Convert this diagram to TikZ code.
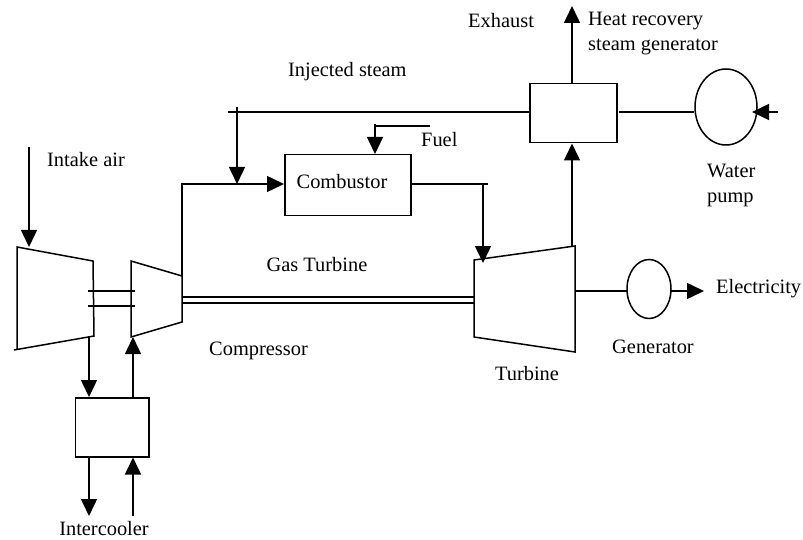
\documentclass[tikz,border=0pt]{standalone}
\usepackage{fontspec}
\setmainfont{Liberation Serif}
\usetikzlibrary{arrows.meta,shapes.geometric}

\tikzset{
	pipe/.style={line width=1.5pt},
	flow/.style={pipe, -{Triangle[length=17pt,width=16pt]}},
	unitbox/.style={draw, line width=1.5pt, rectangle, inner sep=0pt, anchor=north west},
	unitoval/.style={draw, line width=1.5pt, ellipse, inner sep=0pt},
	lbl/.style={inner sep=0pt, font=\fontsize{20.4}{25}\selectfont}
}

\begin{document}
\begin{tikzpicture}[x=1pt,y=-1pt]

	\useasboundingbox (0,0) rectangle (803,540);

% coordinates %{{{2

	% low pressure compressor
	\coordinate (LA) at (17,247);
	\coordinate (LB) at (93,261);
	\coordinate (LC) at (94,336);
	\coordinate (LD) at (14,350);

	% high pressure compressor
	\coordinate (HA) at (131,261);
	\coordinate (HB) at (182,276);
	\coordinate (HC) at (182,322);
	\coordinate (HD) at (131,337);

	% turbine
	\coordinate (TA) at (474,260);
	\coordinate (TB) at (575,246);
	\coordinate (TC) at (575,352);
	\coordinate (TD) at (474,337);

	% free ends
	\coordinate (intake)  at (29,147);
	\coordinate (lpout)   at (89,336);
	\coordinate (hpin)    at (133,337);
	\coordinate (icout)   at (89,516);
	\coordinate (icin)    at (133,516);
	\coordinate (mixpt)   at (237,184);
	\coordinate (corner)  at (182,184);
	\coordinate (steamA)  at (228,112);
	\coordinate (steamB)  at (237,107);
	\coordinate (fuelA)   at (375,124);
	\coordinate (fuelB)   at (375,126);
	\coordinate (fuelC)   at (430,126);
	\coordinate (hotA)    at (488,184);
	\coordinate (hotB)    at (483,184);
	\coordinate (hotC)    at (483,263);
	\coordinate (stack)   at (572,6);
	\coordinate (tbout)   at (572,247);
	\coordinate (waterin) at (778,112);
	\coordinate (waterto) at (752,112);
	\coordinate (pumpgap) at (619,112);
	\coordinate (output)  at (704,291);

% units %{{{2

	\node[unitbox, minimum width=73.5pt, minimum height=59pt] (cooler) at (74.5,397) {};
	\node[unitbox, minimum width=126pt, minimum height=61pt]  (burner) at (284,154) {};
	\node[unitbox, minimum width=87pt, minimum height=59pt]   (hrsg)   at (529,83) {};

	\node[unitoval, minimum width=62pt, minimum height=76pt] (pump) at (726,107) {};
	\node[unitoval, minimum width=44pt, minimum height=59pt] (gen)  at (649,289) {};

	% machines
	\draw[pipe] (LD) -- (LC) -- (LB) -- (LA) -- (17,349);
	\draw[pipe] (HA) -- (HB) -- (HC) -- (HD) -- cycle;
	\draw[pipe] (TA) -- (TB) -- (TC) -- (TD) -- cycle;

% shafts %{{{2

	\draw[pipe] (88,291) -- (135,291);
	\draw[pipe] (88,306) -- (135,306);

	\draw[pipe] (182,297) -- (474,297);
	\draw[pipe] (182,303) -- (474,303);

% flow lines %{{{2

	\draw[flow] (intake) -- (LA -| intake);

	% intercooler
	\draw[flow] (lpout) -- (cooler.north -| lpout);
	\draw[flow] (cooler.north -| hpin) -- (hpin);
	\draw[flow] (cooler.south -| icout) -- (icout);
	\draw[flow] (icin) -- (cooler.south -| icin);

	% combustor
	\draw[pipe] (HB) -- (corner) -- (mixpt);
	\draw[flow] (mixpt) -- (burner.west |- mixpt);
	\draw[pipe] (burner.east |- hotA) -- (hotA);
	\draw[flow] (hotB) -- (hotC);

	% fuel
	\draw[flow] (fuelA) -- (burner.north -| fuelA);
	\draw[pipe] (fuelB) -- (fuelC);

	% steam
	\draw[pipe] (steamA) -- (hrsg.west |- steamA);
	\draw[flow] (steamB) -- (mixpt);

	% exhaust
	\draw[flow] (tbout) -- (hrsg.south -| tbout);
	\draw[flow] (hrsg.north -| stack) -- (stack);

	% water
	\draw[pipe] (pumpgap) -- (pump.west |- pumpgap);
	\draw[flow] (waterin) -- (waterto);

	% electricity
	\draw[pipe] (575,291) -- (627,291);
	\draw[flow] (671,291) -- (output);

% labels %{{{2

	\node[lbl, anchor=west] (intaketxt) at (47,160) {Intake air};
	\node[lbl] (coolertxt)  at (104,529) {Intercooler};
	\node[lbl] (comptxt)    at (258.5,351) {Compressor};
	\node[lbl] (gastxt)     at (317,265) {Gas Turbine};
	\node[lbl] (burnertxt)  at (342,182) {Combustor};
	\node[lbl, anchor=west] (fueltxt)    at (421,140) {Fuel};
	\node[lbl, anchor=west] (steamtxt)   at (288,72) {Injected steam};
	\node[lbl, anchor=west] (exhausttxt) at (468,21) {Exhaust};
	\node[lbl, anchor=west, align=left] (hrsgtxt) at (588,34) {Heat recovery\\steam generator};
	\node[lbl, anchor=west, align=left] (pumptxt) at (707,185) {Water\\pump};
	\node[lbl, anchor=west] (electxt)    at (716,289) {Electricity};
	\node[lbl] (gentxt)     at (653,347) {Generator};
	\node[lbl] (turbtxt)    at (527,374) {Turbine};

% closing %{{{2

\end{tikzpicture}
\end{document}
